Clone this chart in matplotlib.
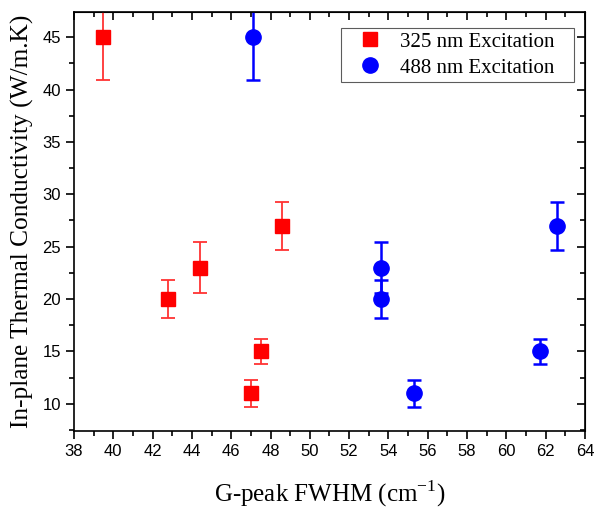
import numpy as np
import matplotlib
matplotlib.use('Agg')
from matplotlib import pyplot as plt
from matplotlib.ticker import MultipleLocator
from matplotlib.lines import Line2D

# 325 nm excitation
fwhm_325 = [39.5, 42.8, 44.4, 47.0, 47.5, 48.6]
k_325 = [45, 20, 23, 11, 15, 27]
err_325 = [4.1, 1.8, 2.4, 1.3, 1.2, 2.3]

# 488 nm excitation
fwhm_488 = [47.1, 53.6, 53.6, 55.3, 61.7, 62.6]
k_488 = [45, 23, 20, 11, 15, 27]
err_488 = [4.1, 2.4, 1.8, 1.3, 1.2, 2.3]

labels = ['325 nm Excitation', '488 nm Excitation']
xticks = np.arange(38, 65, 2)
yticks = np.arange(10, 50, 5)

plt.rcParams['mathtext.fontset'] = 'custom'
plt.rcParams['mathtext.rm'] = 'Liberation Serif'

fig = plt.figure(figsize=(5.95, 5.13), dpi=100)
ax = fig.add_axes([0.1244, 0.1598, 0.8586, 0.8168])

ax.errorbar(fwhm_325, k_325, yerr=err_325, fmt='s', color='red', ms=10,
            ecolor='#ff3333', elinewidth=1.3, capsize=5, capthick=1.3)
ax.errorbar(fwhm_488, k_488, yerr=err_488, fmt='o', color='blue', ms=11,
            ecolor='blue', elinewidth=1.8, capsize=5, capthick=1.8)

ax.set_xlim(38, 64)
ax.set_ylim(7.4, 47.4)
ax.set_xticks(xticks)
ax.set_yticks(yticks)
ax.xaxis.set_minor_locator(MultipleLocator(1))
ax.yaxis.set_minor_locator(MultipleLocator(2.5))
ax.tick_params(which='both', direction='out', top=False, right=False,
               labelsize=12, width=1.2)
ax.tick_params(which='major', length=6)
ax.tick_params(which='minor', length=3.5)
for lab in ax.get_xticklabels() + ax.get_yticklabels():
    lab.set_fontfamily('Liberation Sans')

# inward ticks on top and right
top = ax.secondary_xaxis('top')
top.set_xticks(xticks)
top.xaxis.set_minor_locator(MultipleLocator(1))
right = ax.secondary_yaxis('right')
right.set_yticks(yticks)
right.yaxis.set_minor_locator(MultipleLocator(2.5))
for sec in (top, right):
    sec.tick_params(which='both', direction='in', width=1.2)
    sec.tick_params(which='major', length=6)
    sec.tick_params(which='minor', length=3.5)
top.set_xticklabels([])
right.set_yticklabels([])

for s in ax.spines.values():
    s.set_linewidth(1.2)

ax.set_xlabel('G-peak FWHM (cm$^{\\mathrm{-1}}$)', fontsize=18,
              family='Liberation Serif', labelpad=14)
ax.set_ylabel('In-plane Thermal Conductivity (W/m.K)', fontsize=18.3,
              family='Liberation Serif', labelpad=6)

handles = [Line2D([], [], ls='none', marker='s', color='red', ms=10),
           Line2D([], [], ls='none', marker='o', color='blue', ms=11)]
leg = ax.legend(handles, [l + '   ' for l in labels], loc='upper right',
                bbox_to_anchor=(0.979, 0.962), borderaxespad=0,
                prop={'family': 'Liberation Serif', 'size': 15},
                frameon=True, fancybox=False, edgecolor='#333333',
                handletextpad=0.3, borderpad=0.2, labelspacing=0.3,
                handlelength=2.3)
leg.get_frame().set_linewidth(0.8)

plt.savefig('out.png', dpi=100)
